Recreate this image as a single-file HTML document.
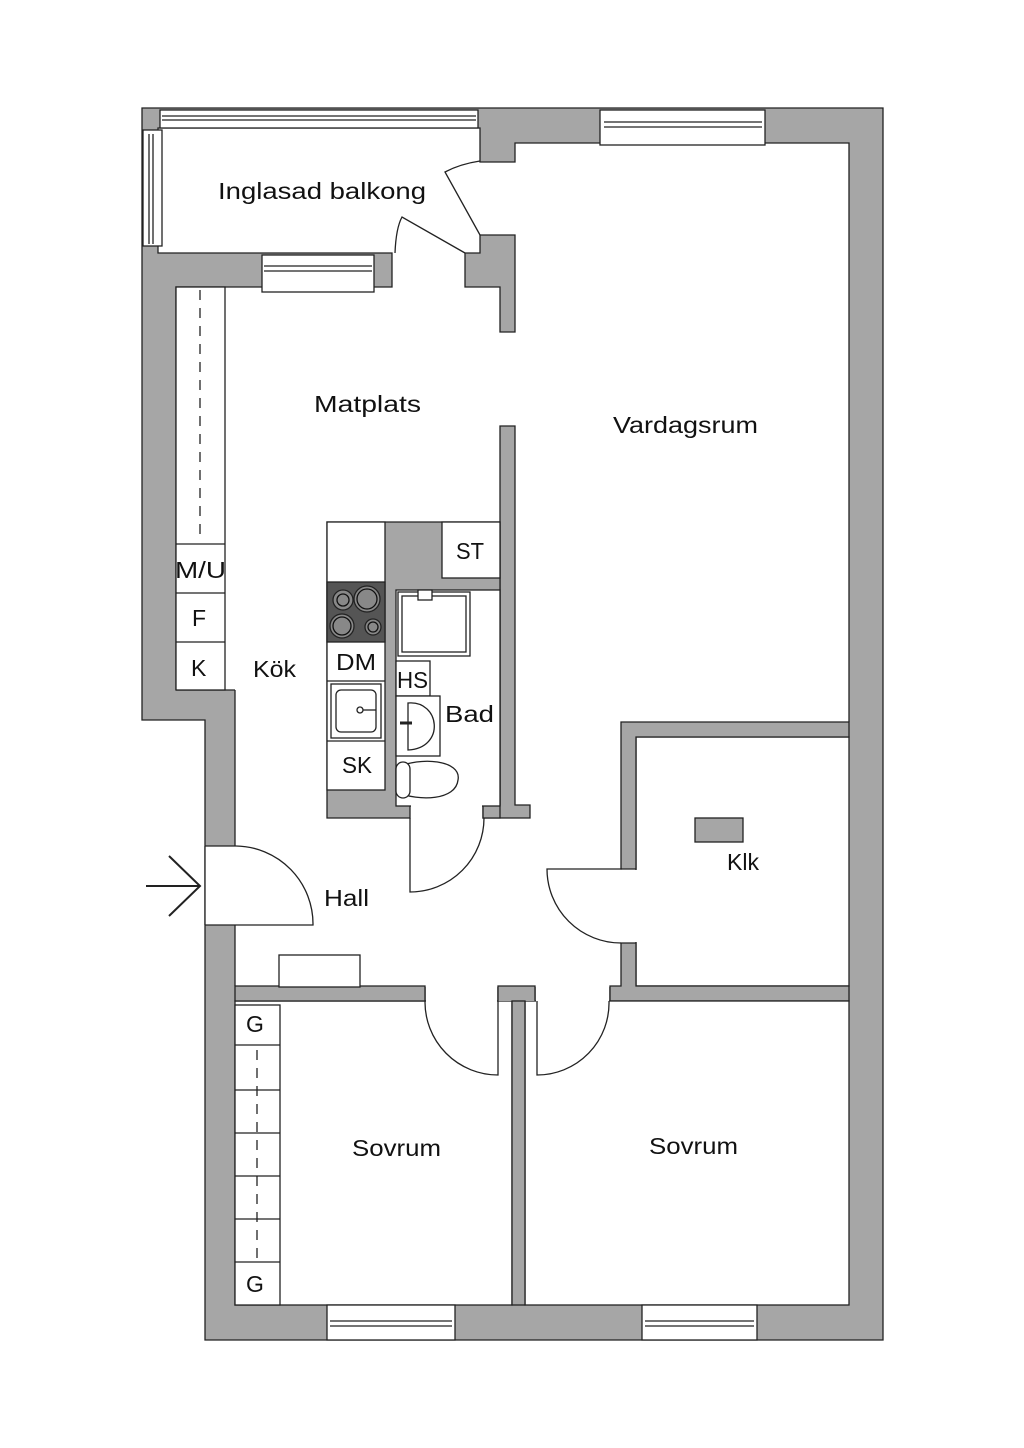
<!DOCTYPE html>
<html><head><meta charset="utf-8"><style>
html,body{margin:0;padding:0;background:#fff}
svg{display:block}
text{font-family:"Liberation Sans",sans-serif;fill:#111}
</style></head><body>
<svg width="1024" height="1448" viewBox="0 0 1024 1448" xmlns="http://www.w3.org/2000/svg">
<g stroke="#222" stroke-width="1.3">
<path d="M142 108 H883 V1340 H205 V720 H142 Z" fill="#a6a6a6"/>
<g fill="#fff" stroke="none">
<rect x="158" y="128" width="322" height="125"/>
<rect x="392" y="250" width="73" height="40"/>
<path d="M176 287 H500 V332 H515 V235 H480 V162 H515 V143 H849 V987 H235 V690 H176 Z"/>
</g>
<path d="M176 690 V287 H392 V253 H158 V128 H480 V162 H515 V143 H849 V722" fill="none"/>
<path d="M235 690 H176" fill="none"/>
<path d="M235 690 V846 M235 925 V986" fill="none"/>
<path d="M465 253 H480 V235 H515 V332 H500 V287 H465 Z" fill="#a6a6a6"/>
<rect x="160" y="110" width="318" height="18" fill="#fff"/>
<line x1="162" y1="116" x2="476" y2="116"/><line x1="162" y1="120" x2="476" y2="120"/>
<rect x="143" y="130" width="19" height="116" fill="#fff"/>
<line x1="149" y1="134" x2="149" y2="244"/><line x1="153" y1="134" x2="153" y2="244"/>
<rect x="600" y="110" width="165" height="35" fill="#fff"/>
<line x1="604" y1="122" x2="762" y2="122"/><line x1="604" y1="127" x2="762" y2="127"/>
<rect x="262" y="255" width="112" height="37" fill="#fff"/>
<line x1="264" y1="266" x2="372" y2="266"/><line x1="264" y1="271" x2="372" y2="271"/>
<path d="M500 426 H515 V805 H530 V818 H483 V805 H500 Z" fill="#a6a6a6"/>
<rect x="176" y="287" width="49" height="403" fill="#fff"/>
<line x1="176" y1="544" x2="225" y2="544"/><line x1="176" y1="593" x2="225" y2="593"/><line x1="176" y1="642" x2="225" y2="642"/>
<line x1="200" y1="290" x2="200" y2="540" stroke-dasharray="10 8"/>
<rect x="636" y="737" width="213" height="249" fill="#fff"/>
<path d="M621 722 H849 V737 H636 V869 H621 Z" fill="#a6a6a6"/>
<path d="M621 943 H636 V986 H849 V1001 H610 V986 H621 Z" fill="#a6a6a6"/>
<rect x="622" y="870" width="15" height="72" fill="#fff" stroke="none"/>
<rect x="695" y="818" width="48" height="24" fill="#a6a6a6"/>
<path d="M327 522 H500 V818 H483 V805 H410 V818 H327 Z" fill="#a6a6a6"/>
<rect x="327" y="522" width="58" height="268" fill="#fff"/>
<rect x="327" y="582" width="58" height="60" fill="#555"/>
<g fill="#888" stroke="#222"><circle cx="343" cy="600" r="10"/><circle cx="367" cy="599" r="13"/><circle cx="342" cy="626" r="12"/><circle cx="373" cy="627" r="8"/></g>
<g fill="none" stroke="#111"><circle cx="343" cy="600" r="6"/><circle cx="367" cy="599" r="10"/><circle cx="342" cy="626" r="9"/><circle cx="373" cy="627" r="5"/></g>
<line x1="327" y1="681" x2="385" y2="681"/><line x1="327" y1="741" x2="385" y2="741"/>
<rect x="331" y="684" width="50" height="54" fill="#fff"/><rect x="336" y="690" width="40" height="42" rx="5" fill="#fff"/>
<circle cx="360" cy="710" r="3" fill="#fff"/><line x1="363" y1="710" x2="376" y2="710"/>
<rect x="442" y="522" width="58" height="56" fill="#fff"/>
<rect x="396" y="590" width="104" height="216" fill="#fff"/>
<rect x="398" y="592" width="72" height="64" fill="#fff"/><rect x="402" y="596" width="64" height="56" fill="none"/>
<rect x="418" y="590" width="14" height="10" fill="#fff"/>
<rect x="396" y="661" width="34" height="35" fill="#fff"/>
<rect x="396" y="696" width="44" height="60" fill="#fff"/>
<path d="M408 703 C440 700 446 748 408 750 Z" fill="#fff"/>
<line x1="400" y1="723" x2="412" y2="723" stroke-width="3"/>
<path d="M396 768 C420 756 462 760 458 780 C456 800 420 802 396 792 Z" fill="#fff"/>
<rect x="396" y="762" width="14" height="36" rx="7" fill="#fff"/>
<rect x="411" y="804" width="71" height="14" fill="#fff" stroke="none"/>
<rect x="235" y="1001" width="277" height="304" fill="#fff"/>
<rect x="525" y="1001" width="324" height="304" fill="#fff"/>
<path d="M235 986 H425 V1001 H235 Z" fill="#a6a6a6"/>
<path d="M498 1001 V986 H535 V1001" fill="#a6a6a6"/>
<rect x="512" y="1001" width="13" height="304" fill="#a6a6a6"/>
<rect x="426" y="985" width="71" height="17" fill="#fff" stroke="none"/>
<rect x="536" y="985" width="73" height="17" fill="#fff" stroke="none"/>
<rect x="235" y="1005" width="45" height="300" fill="#fff"/>
<line x1="235" y1="1045" x2="280" y2="1045"/><line x1="235" y1="1090" x2="280" y2="1090"/><line x1="235" y1="1133" x2="280" y2="1133"/><line x1="235" y1="1176" x2="280" y2="1176"/><line x1="235" y1="1219" x2="280" y2="1219"/><line x1="235" y1="1262" x2="280" y2="1262"/>
<line x1="257" y1="1050" x2="257" y2="1258" stroke-dasharray="10 8"/>
<rect x="327" y="1305" width="128" height="35" fill="#fff"/>
<line x1="330" y1="1321" x2="452" y2="1321"/><line x1="330" y1="1326" x2="452" y2="1326"/>
<rect x="642" y="1305" width="115" height="35" fill="#fff"/>
<line x1="645" y1="1321" x2="754" y2="1321"/><line x1="645" y1="1326" x2="754" y2="1326"/>
<rect x="279" y="955" width="81" height="32" fill="#fff"/>
<rect x="205" y="846" width="31" height="79" fill="#fff" stroke="none"/>
<line x1="205" y1="846" x2="205" y2="925"/>
<path d="M205 846 H236 A78 78 0 0 1 313 925 H205" fill="none"/>
<line x1="146" y1="886" x2="200" y2="886" stroke-width="2"/>
<path d="M169 856 L200 886 L169 916" fill="none" stroke-width="2"/>
<path d="M410 818 V892 A74 74 0 0 0 484 818" fill="none"/>
<path d="M622 869 H547 A74 74 0 0 0 621 943" fill="none"/>
<path d="M425 1001 A73 73 0 0 0 498 1075 V1001" fill="none"/>
<path d="M537 1001 V1075 A72 72 0 0 0 609 1001" fill="none"/>
<path d="M395 253 Q396 228 402 217 L465 253" fill="none"/>
<path d="M480 235 L445 172 Q460 164 480 161" fill="none"/>
</g>
<g font-size="23">
<text x="218" y="199" textLength="208" lengthAdjust="spacingAndGlyphs">Inglasad balkong</text>
<text x="314" y="412" textLength="107" lengthAdjust="spacingAndGlyphs">Matplats</text>
<text x="613" y="433" textLength="145" lengthAdjust="spacingAndGlyphs">Vardagsrum</text>
<text x="253" y="677" textLength="43" lengthAdjust="spacingAndGlyphs">Kök</text>
<text x="324" y="906" textLength="45" lengthAdjust="spacingAndGlyphs">Hall</text>
<text x="727" y="870" textLength="32" lengthAdjust="spacingAndGlyphs">Klk</text>
<text x="352" y="1156" textLength="89" lengthAdjust="spacingAndGlyphs">Sovrum</text>
<text x="649" y="1154" textLength="89" lengthAdjust="spacingAndGlyphs">Sovrum</text>
<text x="445" y="722" textLength="49" lengthAdjust="spacingAndGlyphs">Bad</text>
<text x="456" y="559" textLength="28" lengthAdjust="spacingAndGlyphs">ST</text>
<text x="336" y="670" textLength="40" lengthAdjust="spacingAndGlyphs">DM</text>
<text x="342" y="773" textLength="30" lengthAdjust="spacingAndGlyphs">SK</text>
<text x="397" y="688" textLength="31" lengthAdjust="spacingAndGlyphs">HS</text>
<text x="175" y="578" textLength="51" lengthAdjust="spacingAndGlyphs">M/U</text>
<text x="192" y="626">F</text>
<text x="191" y="676">K</text>
<text x="246" y="1032">G</text>
<text x="246" y="1292">G</text>
</g>
</svg>
</body></html>
